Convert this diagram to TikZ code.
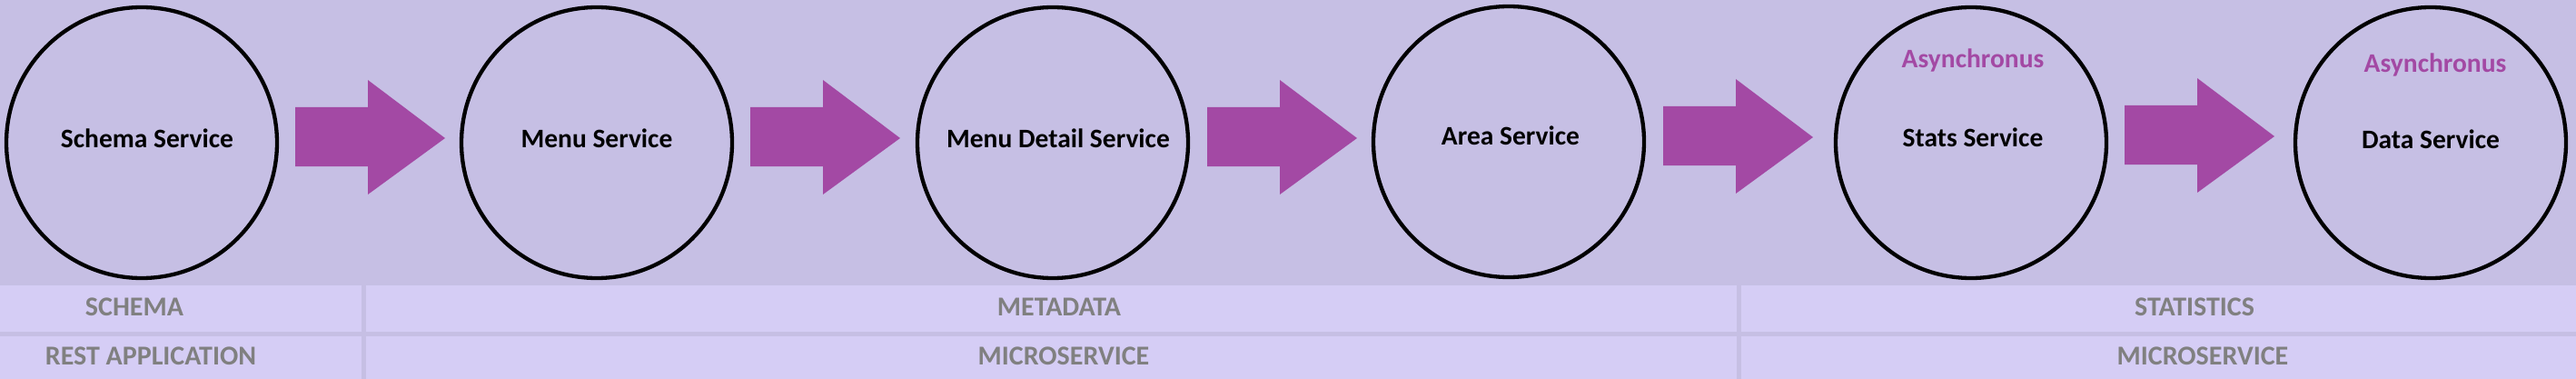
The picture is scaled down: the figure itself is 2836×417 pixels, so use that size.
\documentclass[tikz,border=0pt]{standalone}
\usepackage{fontspec}
\setmainfont{Carlito}
\definecolor{topbg}{RGB}{198,191,228}
\definecolor{bandbg}{RGB}{213,205,245}
\definecolor{arrowc}{RGB}{163,73,164}
\definecolor{graytxt}{RGB}{128,128,128}
\tikzset{
  svc/.style={circle, draw=black, line width=4.3pt, minimum size=298pt, inner sep=0pt},
  svclabel/.style={anchor=base, font=\fontsize{29.5}{30}\selectfont\bfseries, text=black, inner sep=0pt},
  asynclabel/.style={anchor=base, font=\fontsize{29.5}{30}\selectfont\bfseries, text=arrowc, inner sep=0pt},
  bandlabel/.style={anchor=base, font=\fontsize{30}{31}\selectfont\bfseries, text=graytxt, inner sep=0pt},
  blockarrow/.style={fill=arrowc, draw=none}
}
\newcommand{\blockarr}[2]{% #1 = start x, #2 = tip y
  \fill[blockarrow] (#1,#2-34) -- (#1+80,#2-34) -- (#1+80,#2-64) -- (#1+165,#2) -- (#1+80,#2+62) -- (#1+80,#2+31) -- (#1,#2+31) -- cycle;}
\begin{document}
\begin{tikzpicture}[x=1pt,y=-1pt]
\useasboundingbox (0,0) rectangle (2836,417);
% backgrounds
\fill[topbg] (0,0) rectangle (2836,417);
\fill[bandbg] (0,314) rectangle (398,365);
\fill[bandbg] (403,314) rectangle (1912,365);
\fill[bandbg] (1917,314) rectangle (2836,365);
\fill[bandbg] (0,370) rectangle (398,417);
\fill[bandbg] (403,370) rectangle (1912,417);
\fill[bandbg] (1917,370) rectangle (2836,417);
% circles
\node[svc] (schema) at (156,157) {};
\node[svc] (menu) at (657,157) {};
\node[svc] (detail) at (1159,157) {};
\node[svc] (area) at (1661,156) {};
\node[svc] (stats) at (2170,157) {};
\node[svc] (data) at (2676,157) {};
% labels
\node[svclabel] (schemaL) at (162,162) {Schema Service};
\node[svclabel] (menuL) at (657,162) {Menu Service};
\node[svclabel] (detailL) at (1165,162) {Menu Detail Service};
\node[svclabel] (areaL) at (1663,159) {Area Service};
\node[svclabel] (statsL) at (2172,161) {Stats Service};
\node[svclabel] (dataL) at (2676,163) {Data Service};
\node[asynclabel] (async1) at (2172,75) {Asynchronus};
\node[asynclabel] (async2) at (2681,80) {Asynchronus};
% arrows
\blockarr{325}{152}
\blockarr{826}{152}
\blockarr{1329}{152}
\blockarr{1831}{151}
\blockarr{2339}{150}
% band labels
\node[bandlabel] (b1) at (148,347) {SCHEMA};
\node[bandlabel] (b2) at (1166,347) {METADATA};
\node[bandlabel] (b3) at (2416,347) {STATISTICS};
\node[bandlabel] (b4) at (166,401) {REST APPLICATION};
\node[bandlabel] (b5) at (1171,401) {MICROSERVICE};
\node[bandlabel] (b6) at (2425,401) {MICROSERVICE};
\end{tikzpicture}
\end{document}
